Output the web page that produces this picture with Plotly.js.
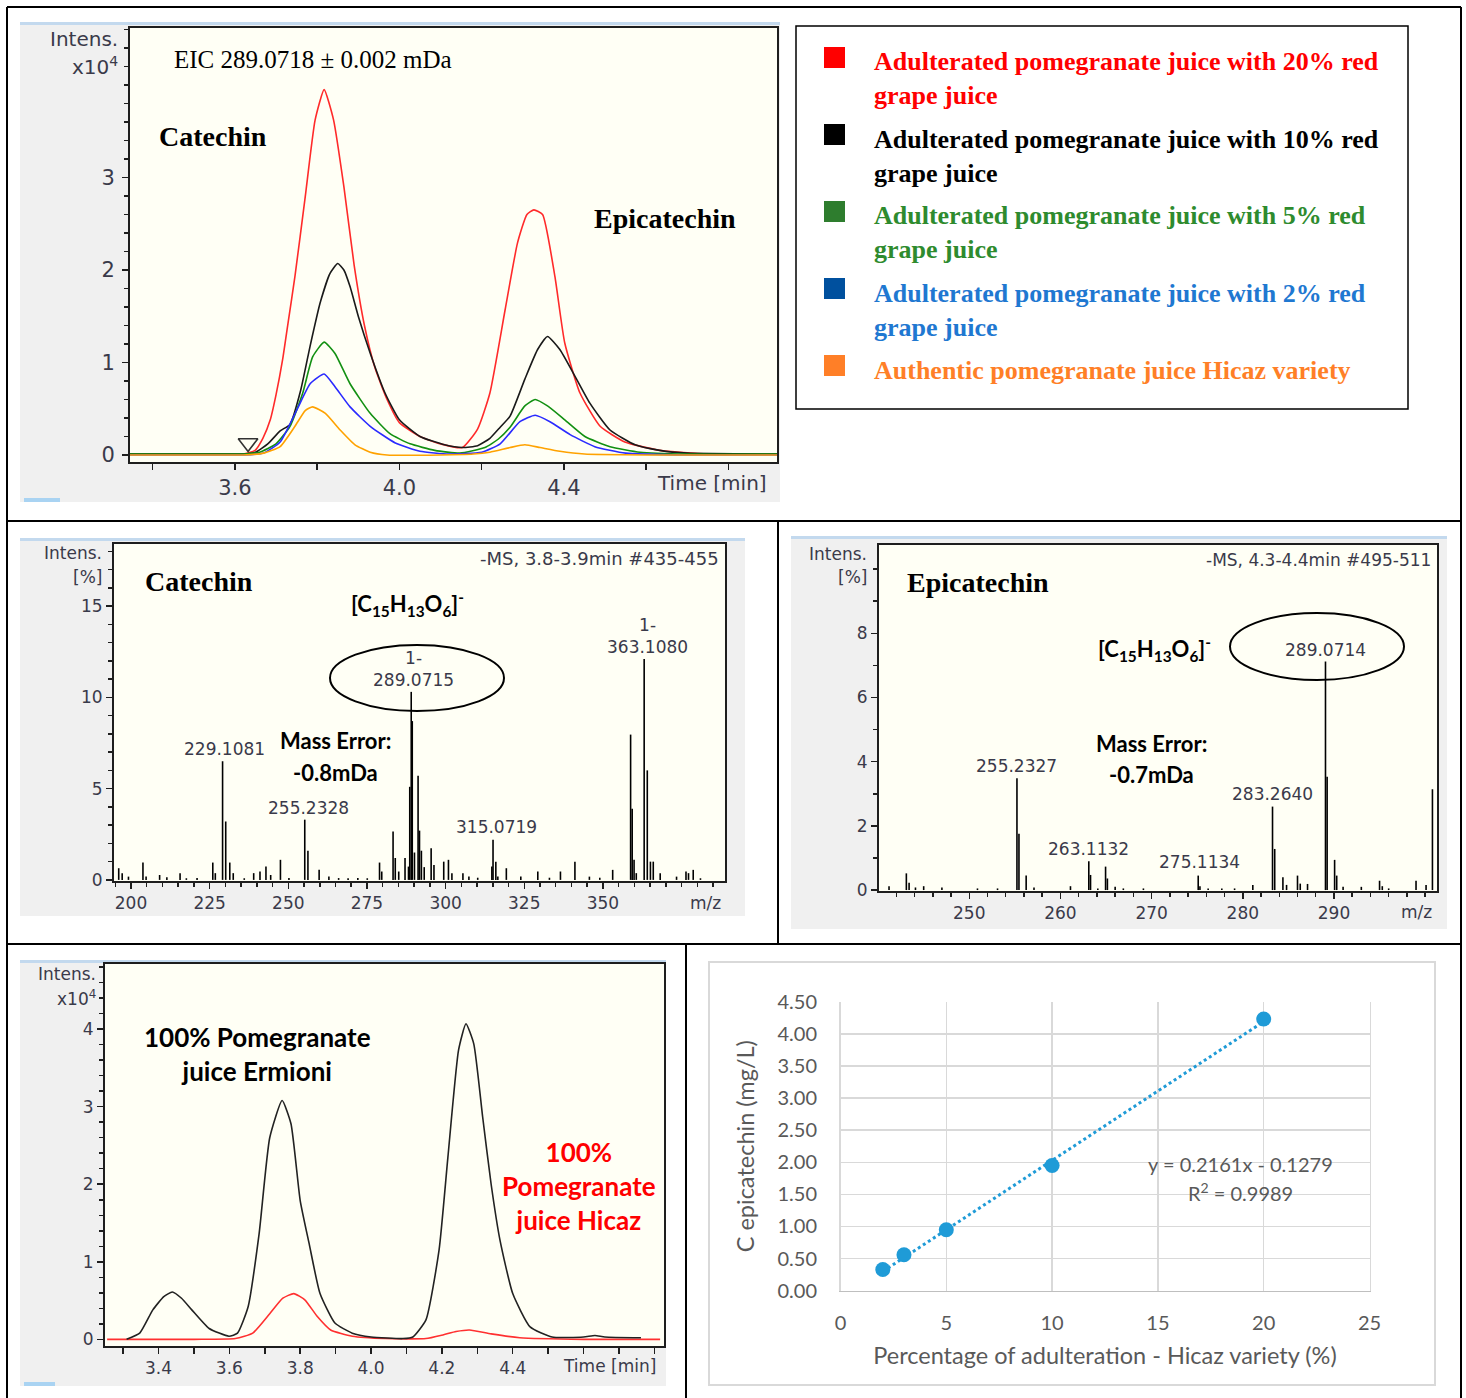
<!DOCTYPE html>
<html><head><meta charset="utf-8">
<script src="https://cdn.plot.ly/plotly-3.0.1.min.js"></script>
<style>html,body{margin:0;padding:0;background:#fff}</style>
</head><body><div id="chart" style="width:1466px;height:1398px"></div>
<script>
// ---------- DATA ----------
// Panel 1: EIC 289.0718 chromatograms (time in min, intensity x10^4)
const redT   = [3.345,3.45,3.55,3.62,3.649,3.668,3.686,3.70,3.716,3.73,3.746,3.771,3.795,3.817,3.84,3.865,3.89,3.915,3.94,3.97,4.0,4.05,4.10,4.153,4.19,4.22,4.257,4.287,4.31,4.327,4.348,4.378,4.402,4.439,4.488,4.548,4.633,4.75,4.918];
const redI   = [0.01,0.01,0.01,0.01,0.05,0.18,0.38,0.65,1.03,1.45,1.93,2.79,3.62,3.95,3.62,2.9,2.05,1.4,0.95,0.6,0.35,0.2,0.12,0.08,0.28,0.67,1.57,2.29,2.6,2.65,2.6,1.93,1.21,0.67,0.31,0.14,0.05,0.01,0.01];
const blackT = [3.345,3.45,3.55,3.62,3.65,3.68,3.71,3.734,3.76,3.783,3.807,3.831,3.85,3.865,3.88,3.90,3.929,3.965,4.0,4.05,4.11,4.153,4.19,4.22,4.245,4.269,4.305,4.336,4.36,4.39,4.427,4.463,4.512,4.573,4.633,4.70,4.918];
const blackI = [0.01,0.01,0.01,0.01,0.03,0.12,0.26,0.33,0.7,1.18,1.64,1.96,2.07,2.0,1.82,1.5,1.1,0.67,0.38,0.2,0.11,0.08,0.1,0.18,0.3,0.42,0.82,1.14,1.28,1.14,0.85,0.56,0.27,0.11,0.05,0.02,0.01];
const greenT = [3.345,3.45,3.55,3.62,3.66,3.70,3.734,3.765,3.789,3.817,3.843,3.88,3.929,3.977,4.026,4.086,4.147,4.208,4.24,4.269,4.305,4.33,4.36,4.402,4.451,4.512,4.585,4.70,4.918];
const greenI = [0.01,0.01,0.01,0.01,0.03,0.12,0.31,0.67,1.06,1.22,1.1,0.77,0.45,0.23,0.12,0.05,0.02,0.08,0.17,0.3,0.53,0.6,0.53,0.38,0.2,0.09,0.03,0.01,0.01];
const blueT  = [3.345,3.45,3.55,3.62,3.67,3.71,3.752,3.783,3.817,3.843,3.88,3.929,3.99,4.05,4.12,4.2,4.245,4.293,4.33,4.366,4.415,4.475,4.55,4.70,4.918];
const blueI  = [0,0,0,0,0.02,0.14,0.5,0.77,0.875,0.74,0.52,0.31,0.13,0.04,0.01,0.03,0.12,0.36,0.43,0.36,0.22,0.09,0.02,0,0];
const orangeT= [3.345,3.45,3.55,3.62,3.67,3.71,3.746,3.771,3.789,3.82,3.856,3.892,3.929,3.97,4.1,4.18,4.22,4.269,4.305,4.342,4.39,4.45,4.6,4.918];
const orangeI= [0,0,0,0,0.02,0.09,0.31,0.48,0.52,0.45,0.27,0.11,0.03,0,0,0.01,0.03,0.08,0.11,0.08,0.04,0.01,0,0];
const markerTime = [3.632];
const markerLevel = [0.13];
const chromTickVals = [3.6,4.0,4.4];
const chromTickText = ['3.6','4.0','4.4'];
const chromYTicks = [0,1,2,3];

// Legend
const legendLabels = [
  'Adulterated pomegranate juice with 20% red<br>grape juice',
  'Adulterated pomegranate juice with 10% red<br>grape juice',
  'Adulterated pomegranate juice with 5% red<br>grape juice',
  'Adulterated pomegranate juice with 2% red<br>grape juice',
  'Authentic pomegranate juice Hicaz variety'
];
const legendTextColors = ['#ff0000','#000000','#2e8b2e','#1f78d1','#ff7f27'];
const legendBoxColors  = ['#ff0000','#000000','#2e7d2e','#00509e','#ff7f27'];

// Panel 2: Catechin MS spectrum (m/z, intensity %)
const ms1Mz  = [196.1,197.2,199.2,203.8,204.8,209.1,211.4,215.6,217.6,221.0,226.0,226.8,229.11,230.11,231.4,232.5,236.0,239.0,241.0,242.9,244.4,247.5,250.2,255.23,256.24,259.8,262.9,266.0,269.0,272.1,275.1,279.0,279.7,283.3,284.0,285.1,287.1,288.2,288.6,289.07,289.4,290.1,291.25,291.7,292.3,293.2,295.4,296.3,299.4,300.9,302.0,305.5,307.4,310.2,314.7,315.07,315.96,316.6,319.3,323.9,329.3,333.0,336.5,341.1,345.7,349.0,353.1,358.8,359.3,359.9,360.6,363.11,364.1,365.1,366.0,368.2,373.4,376.4,377.2,378.7,381.0];
const ms1Int = [0.64,0.37,0.18,0.95,0.18,0.27,0.15,0.37,0.09,0.1,0.95,0.37,6.5,3.2,0.95,0.37,0.09,0.37,0.46,0.73,0.27,1.1,0.1,3.3,1.6,0.55,0.18,0.1,0.09,0.1,0.09,0.95,0.46,2.65,1.2,0.46,1.2,0.73,5.1,10.3,8.7,1.5,5.7,2.7,1.6,0.7,1.74,0.82,1.0,1.1,0.37,0.37,0.18,0.12,0.73,2.2,1.0,0.18,0.64,0.18,0.46,0.12,0.46,1.0,0.18,0.12,0.55,7.96,3.9,1.1,0.37,12.1,6.0,1.0,1.0,0.37,0.18,0.46,0.37,0.55,0.09];
const ms1XTicks = [200,225,250,275,300,325,350];
const ms1YTicks = [0,5,10,15];

// Panel 3: Epicatechin MS spectrum
const ms2Mz  = [241.2,243.1,243.4,244.1,245.0,247.0,250.9,253.1,255.23,255.45,256.24,257.1,261.1,263.11,263.3,264.1,264.95,265.15,266.0,266.9,269.1,275.11,275.3,276.2,277.7,279.1,281.1,283.26,283.5,284.4,284.8,286.0,286.3,287.1,289.07,289.25,290.07,290.3,291.0,293.0,295.0,295.3,296.0,299.0,300.1,300.8];
const ms2Int = [0.12,0.52,0.23,0.08,0.12,0.08,0.05,0.05,3.48,1.75,0.45,0.08,0.12,0.9,0.47,0.05,0.73,0.36,0.1,0.05,0.05,0.45,0.12,0.05,0.05,0.05,0.16,2.6,1.28,0.4,0.16,0.45,0.2,0.19,7.12,3.53,0.94,0.45,0.1,0.1,0.29,0.12,0.05,0.29,0.16,3.14];
const ms2XTicks = [250,260,270,280,290];
const ms2YTicks = [0,2,4,6,8];

// Panel 4: Ermioni vs Hicaz chromatograms
const ermT = [3.31,3.347,3.384,3.415,3.439,3.465,3.494,3.543,3.599,3.623,3.653,3.684,3.714,3.749,3.774,3.80,3.825,3.856,3.898,3.947,4.0,4.09,4.118,4.155,4.192,4.217,4.247,4.268,4.29,4.315,4.339,4.364,4.40,4.449,4.511,4.6,4.632,4.66,4.762];
const ermI = [0,0.08,0.38,0.55,0.61,0.53,0.38,0.14,0.04,0.08,0.42,1.36,2.6,3.08,2.78,1.79,1.24,0.59,0.21,0.08,0.03,0.01,0.03,0.25,1.15,2.35,3.73,4.07,3.81,2.87,2.0,1.28,0.59,0.16,0.03,0.03,0.05,0.03,0.02];
const hicT = [3.255,3.5,3.617,3.666,3.714,3.751,3.782,3.813,3.849,3.886,3.947,4.04,4.155,4.205,4.24,4.278,4.339,4.42,4.6,4.816];
const hicI = [0,0,0.01,0.08,0.33,0.53,0.59,0.51,0.29,0.12,0.04,0.01,0.01,0.06,0.1,0.12,0.07,0.02,0,0];
const chrom2TickVals = [3.4,3.6,3.8,4.0,4.2,4.4];
const chrom2TickText = ['3.4','3.6','3.8','4.0','4.2','4.4'];

// Panel 5: calibration
const adultPct = [2,3,5,10,20];
const epiConc  = [0.33,0.56,0.95,1.95,4.23];
const trendX = [2,20];
const trendY = [0.30,4.19];

// ---------- LAYOUT HELPERS ----------
const W = 1466, H = 1398;
const fx = X => X / W;
const fy = Y => 1 - Y / H;
const DV = 'DejaVu Sans', SERIF = 'Liberation Serif', LATO = 'Lato';
const TK = '#3a3a4a';

function sticks(mz, it) {
  const x = [], y = [];
  mz.forEach((m, i) => { x.push(m, m, null); y.push(0, it[i], null); });
  return {x, y};
}
function A(text, X, Y, font, xanchor, align) {
  return {text, x: fx(X), y: fy(Y), xref: 'paper', yref: 'paper',
    xanchor: xanchor || 'center', yanchor: 'middle', showarrow: false,
    align: align || 'center', font};
}
function rect(x0, y0, x1, y1, fill, line, lw, layer) {
  return {type: 'rect', xref: 'paper', yref: 'paper', x0: fx(x0), x1: fx(x1), y0: fy(y1), y1: fy(y0),
    fillcolor: fill, line: {color: line || 'rgba(0,0,0,0)', width: lw || 0}, layer: layer || 'below'};
}
function ln(x0, y0, x1, y1, color, w, layer) {
  return {type: 'line', xref: 'paper', yref: 'paper', x0: fx(x0), x1: fx(x1), y0: fy(y0), y1: fy(y1),
    line: {color, width: w}, layer: layer || 'above'};
}
function dom(a, b) { return [fx(a), fx(b)]; }
function domY(top, bot) { return [fy(bot), fy(top)]; }
const minorT = (t0, dt, len) => ({tickmode: 'linear', tick0: t0, dtick: dt, ticklen: len || 4, tickwidth: 1.5, tickcolor: '#1e1e1e', ticks: 'outside'});

const brukerAxis = (extra) => Object.assign({
  showline: true, mirror: true, linecolor: '#1e1e1e', linewidth: 2,
  ticks: 'outside', ticklen: 6, tickwidth: 1.5, tickcolor: '#1e1e1e',
  showgrid: false, zeroline: false, fixedrange: true,
  tickfont: {family: DV, size: 17, color: TK}
}, extra);

const P1 = {l:130, r:777, t:28, b:462};
const P2 = {l:114, r:725, t:544, b:881};
const P3 = {l:879, r:1437, t:545, b:891};
const P4 = {l:105, r:664, t:964, b:1346};
const P5 = {l:840.5, r:1369.5, t:1001.7, b:1290.7};

// ---------- TRACES ----------
const chromLine = (c) => ({color: c, width: 1.6, shape: 'spline', smoothing: 0.5});
const s1 = sticks(ms1Mz, ms1Int), s2 = sticks(ms2Mz, ms2Int);
const traces = [
  {x: redT, y: redI, type: 'scatter', mode: 'lines', line: chromLine('#ff2a2a'), xaxis: 'x', yaxis: 'y'},
  {x: blackT, y: blackI, type: 'scatter', mode: 'lines', line: chromLine('#1a1a1a'), xaxis: 'x', yaxis: 'y'},
  {x: greenT, y: greenI, type: 'scatter', mode: 'lines', line: chromLine('#129012'), xaxis: 'x', yaxis: 'y'},
  {x: blueT, y: blueI, type: 'scatter', mode: 'lines', line: chromLine('#2a2aff'), xaxis: 'x', yaxis: 'y'},
  {x: orangeT, y: orangeI, type: 'scatter', mode: 'lines', line: chromLine('#ffa200'), xaxis: 'x', yaxis: 'y'},
  {x: markerTime, y: markerLevel, type: 'scatter', mode: 'markers', xaxis: 'x', yaxis: 'y',
   marker: {symbol: 'triangle-down-open', size: 17, color: '#333', line: {width: 1.6, color: '#333'}}},
  {x: s1.x, y: s1.y, type: 'scatter', mode: 'lines', line: {color: '#000', width: 1.6}, xaxis: 'x2', yaxis: 'y2', connectgaps: false},
  {x: s2.x, y: s2.y, type: 'scatter', mode: 'lines', line: {color: '#000', width: 1.6}, xaxis: 'x3', yaxis: 'y3', connectgaps: false},
  {x: hicT, y: hicI, type: 'scatter', mode: 'lines', line: {color: '#ff3030', width: 1.6, shape: 'spline', smoothing: 0.5}, xaxis: 'x4', yaxis: 'y4'},
  {x: ermT, y: ermI, type: 'scatter', mode: 'lines', line: {color: '#222', width: 1.6, shape: 'spline', smoothing: 0.5}, xaxis: 'x4', yaxis: 'y4'},
  {x: trendX, y: trendY, type: 'scatter', mode: 'lines', line: {color: '#1f9bd7', width: 3, dash: 'dot'}, xaxis: 'x5', yaxis: 'y5'},
  {x: adultPct, y: epiConc, type: 'scatter', mode: 'markers', marker: {color: '#1f9bd7', size: 15}, xaxis: 'x5', yaxis: 'y5'}
];

// ---------- SHAPES ----------
const shapes = [
  rect(20, 24, 780, 502, '#f0f0f0'),
  rect(P1.l, P1.t, P1.r, P1.b, '#fffff5'),
  rect(20, 540, 745, 916, '#f0f0f0'),
  rect(P2.l, P2.t, P2.r, P2.b, '#fffff5'),
  rect(791, 538, 1447, 929, '#f0f0f0'),
  rect(P3.l, P3.t, P3.r, P3.b, '#fffff5'),
  rect(20, 962, 666, 1386, '#f0f0f0'),
  rect(P4.l, P4.t, P4.r, P4.b, '#fffff5'),
  rect(709, 962, 1435, 1385, '#ffffff', '#d9d9d9', 2),
  rect(20, 22, 780, 25, '#c3d9ee'),
  rect(20, 538, 745, 541, '#c3d9ee'),
  rect(791, 536, 1447, 539, '#c3d9ee'),
  rect(20, 960, 666, 963, '#c3d9ee'),
  rect(24, 498, 60, 502, '#a9d3f2'),
  rect(24, 1382, 55, 1386, '#a9d3f2'),
  rect(796, 26, 1408, 409, 'rgba(0,0,0,0)', '#000', 1.5, 'above'),
  {type: 'circle', xref: 'paper', yref: 'paper', x0: fx(330), x1: fx(504), y0: fy(711), y1: fy(645), line: {color: '#000', width: 2}},
  {type: 'circle', xref: 'paper', yref: 'paper', x0: fx(1230), x1: fx(1404), y0: fy(680), y1: fy(613), line: {color: '#000', width: 2}},
  ln(7, 7, 1461, 7, '#000', 2),
  ln(7, 7, 7, 1398, '#000', 2),
  ln(1461, 7, 1461, 1398, '#000', 2),
  ln(7, 521, 1461, 521, '#000', 2),
  ln(7, 944, 1461, 944, '#000', 2),
  ln(778, 521, 778, 944, '#000', 2),
  ln(686, 944, 686, 1398, '#000', 2)
];
legendBoxColors.forEach((c, i) => {
  const yc = 57 + i * 77;
  shapes.push(rect(824, yc - 10, 845, yc + 11, c, null, 0, 'above'));
});

// ---------- ANNOTATIONS ----------
const tf = (s) => ({family: DV, size: s, color: TK});
const annotations = [
  A('Intens.', 120, 39, tf(20), 'right', 'right'),
  A('x10<sup>4</sup>', 120, 66, tf(20), 'right', 'right'),
  A('EIC 289.0718 ± 0.002 mDa', 172, 60, {family: SERIF, size: 25, color: '#000'}, 'left', 'left'),
  A('<b>Catechin</b>', 157, 136, {family: SERIF, size: 28, color: '#000'}, 'left', 'left'),
  A('<b>Epicatechin</b>', 592, 219, {family: SERIF, size: 28, color: '#000'}, 'left', 'left'),
  A('Time [min]', 769, 483, tf(20), 'right', 'right'),

  A('Intens.', 104, 553, tf(17), 'right', 'right'),
  A('[%]', 104, 577, tf(17), 'right', 'right'),
  A('-MS, 3.8-3.9min #435-455', 721, 558, tf(18), 'right', 'right'),
  A('<b>Catechin</b>', 143, 581, {family: SERIF, size: 28, color: '#000'}, 'left', 'left'),
  A('<b>[C<sub>15</sub>H<sub>13</sub>O<sub>6</sub>]<sup>-</sup></b>', 349, 604, {family: LATO, size: 22, color: '#000'}, 'left', 'left'),
  A('1-<br>289.0715', 413, 669, tf(17)),
  A('1-<br>363.1080', 647, 636, tf(17)),
  A('229.1081', 225, 749, tf(17)),
  A('255.2328', 308, 808, tf(17)),
  A('315.0719', 496, 827, tf(17)),
  A('<b>Mass Error:</b>', 335, 740, {family: LATO, size: 22, color: '#000'}),
  A('<b>-0.8mDa</b>', 335, 772, {family: LATO, size: 22, color: '#000'}),
  A('m/z', 705, 903, tf(17)),

  A('Intens.', 869, 554, tf(17), 'right', 'right'),
  A('[%]', 869, 577, tf(17), 'right', 'right'),
  A('-MS, 4.3-4.4min #495-511', 1433, 560, tf(17), 'right', 'right'),
  A('<b>Epicatechin</b>', 905, 583, {family: SERIF, size: 28, color: '#000'}, 'left', 'left'),
  A('<b>[C<sub>15</sub>H<sub>13</sub>O<sub>6</sub>]<sup>-</sup></b>', 1096, 649, {family: LATO, size: 22, color: '#000'}, 'left', 'left'),
  A('289.0714', 1325, 650, tf(17)),
  A('<b>Mass Error:</b>', 1151, 743, {family: LATO, size: 22, color: '#000'}),
  A('<b>-0.7mDa</b>', 1151, 775, {family: LATO, size: 22, color: '#000'}),
  A('255.2327', 1016, 766, tf(17)),
  A('263.1132', 1088, 849, tf(17)),
  A('275.1134', 1199, 862, tf(17)),
  A('283.2640', 1272, 794, tf(17)),
  A('m/z', 1416, 912, tf(17)),

  A('Intens.', 98, 974, tf(17), 'right', 'right'),
  A('x10<sup>4</sup>', 98, 998, tf(17), 'right', 'right'),
  A('<b>100% Pomegranate<br>juice Ermioni</b>', 257, 1054, {family: LATO, size: 26, color: '#000'}),
  A('<b>100%<br>Pomegranate<br>juice Hicaz</b>', 579, 1186, {family: LATO, size: 26, color: '#ff0000'}),
  A('Time [min]', 658, 1366, tf(17), 'right', 'right'),

  A('y = 0.2161x - 0.1279', 1240, 1164, {family: LATO, size: 20, color: '#595959'}),
  A('R<sup>2</sup> = 0.9989', 1240, 1192, {family: LATO, size: 20, color: '#595959'})
];
legendLabels.forEach((t, i) => {
  const yc = i < 4 ? 79 + i * 77 : 370;
  annotations.push(A('<b>' + t + '</b>', 872, yc, {family: SERIF, size: 26, color: legendTextColors[i]}, 'left', 'left'));
});

// ---------- AXES ----------
const layout = {
  width: W, height: H, margin: {l: 0, r: 0, t: 0, b: 0},
  paper_bgcolor: '#ffffff', plot_bgcolor: 'rgba(0,0,0,0)', showlegend: false,
  xaxis: brukerAxis({domain: dom(P1.l, P1.r), range: [3.345, 4.918], anchor: 'y',
    tickmode: 'array', tickvals: chromTickVals, ticktext: chromTickText, tickfont: tf(21), ticklabelstandoff: 0,
    minor: minorT(3.4, 0.2, 6)}),
  yaxis: brukerAxis({domain: domY(P1.t, P1.b), range: [-0.076, 4.616], anchor: 'x',
    tickmode: 'array', tickvals: chromYTicks, tickfont: tf(21), ticklabelstandoff: 3,
    minor: minorT(0, 0.2, 4)}),
  xaxis2: brukerAxis({domain: dom(P2.l, P2.r), range: [194.6, 388.8], anchor: 'y2',
    tickmode: 'array', tickvals: ms1XTicks, minor: minorT(0, 5, 4)}),
  yaxis2: brukerAxis({domain: domY(P2.t, P2.b), range: [-0.06, 18.4], anchor: 'x2',
    tickmode: 'array', tickvals: ms1YTicks, minor: minorT(0, 1, 4)}),
  xaxis3: brukerAxis({domain: dom(P3.l, P3.r), range: [240.1, 301.3], anchor: 'y3',
    tickmode: 'array', tickvals: ms2XTicks, minor: minorT(0, 2, 4)}),
  yaxis3: brukerAxis({domain: domY(P3.t, P3.b), range: [-0.03, 10.75], anchor: 'x3',
    tickmode: 'array', tickvals: ms2YTicks, minor: minorT(0, 1, 4)}),
  xaxis4: brukerAxis({domain: dom(P4.l, P4.r), range: [3.249, 4.827], anchor: 'y4',
    tickmode: 'array', tickvals: chrom2TickVals, ticktext: chrom2TickText, minor: minorT(3.3, 0.1, 6)}),
  yaxis4: brukerAxis({domain: domY(P4.t, P4.b), range: [-0.086, 4.84], anchor: 'x4',
    tickmode: 'linear', tick0: 0, dtick: 1, minor: minorT(0, 0.2, 4)}),
  xaxis5: {domain: dom(P5.l, P5.r), range: [0, 25], anchor: 'y5', tickmode: 'linear', tick0: 0, dtick: 5,
    showgrid: true, gridcolor: '#d9d9d9', gridwidth: 1.5, zeroline: false, showline: true, linecolor: '#bfbfbf', linewidth: 1.5,
    ticks: '', ticklabelstandoff: 14, tickfont: {family: LATO, size: 20, color: '#595959'}, fixedrange: true,
    title: {text: 'Percentage of adulteration - Hicaz variety (%)', font: {family: LATO, size: 23.5, color: '#595959'}, standoff: 14}},
  yaxis5: {domain: domY(P5.t, P5.b), range: [0, 4.5], anchor: 'x5', tickmode: 'linear', tick0: 0, dtick: 0.5, tickformat: '.2f',
    showgrid: true, gridcolor: '#d9d9d9', gridwidth: 1.5, zeroline: false, showline: true, mirror: true, linecolor: '#d9d9d9', linewidth: 1.5,
    ticks: '', ticklabelstandoff: 18, tickfont: {family: LATO, size: 20, color: '#595959'}, fixedrange: true,
    title: {text: 'C epicatechin (mg/L)', font: {family: LATO, size: 23.5, color: '#595959'}, standoff: 16}},
  shapes, annotations
};

Plotly.newPlot('chart', traces, layout, {staticPlot: true, displayModeBar: false});
</script></body></html>
